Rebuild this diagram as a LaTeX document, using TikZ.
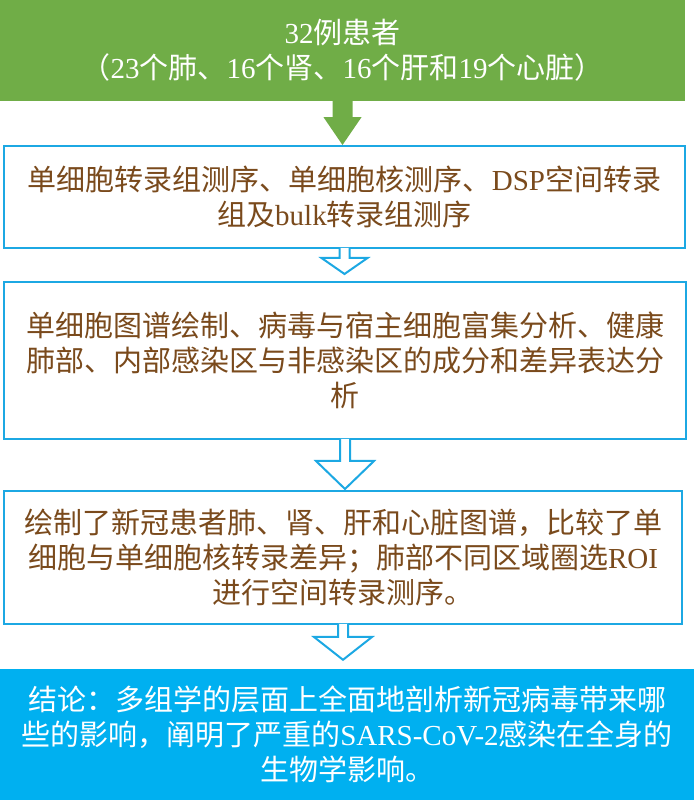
\documentclass[tikz,border=0pt]{standalone}
\usepackage{fontspec}
\setmainfont{Liberation Serif}
\newfontfamily\cjk{Noto Sans CJK SC}
\newfontfamily\lat{Liberation Serif}
\usepackage{tikz}
\usetikzlibrary{calc}
\definecolor{headgreen}{HTML}{70AD47}
\definecolor{lineblue}{HTML}{1CA8E3}
\definecolor{endblue}{HTML}{00B0F0}
\definecolor{textbrown}{HTML}{7A4A1C}
\tikzset{
  stage/.style={draw=lineblue, line width=2pt, fill=white, text=textbrown, align=center, inner sep=0pt},
  hollow/.style={draw=lineblue, line width=2pt, fill=white},
  solidarrow/.style={fill=headgreen, draw=none}
}
% [style]{from}{to}{shaft half width}{shaft length}{head half width}{gap above target}
\newcommand{\blockarrow}[7][hollow]{%
  \filldraw[#1] ([xshift=-#4pt,yshift=1pt]#2.south) -- ++(0,-#5-1) -- ++(#4-#6,0)
    -- ($(#2.south |- #3.north)+(0,#7)$) -- ([xshift=#6pt,yshift=-#5pt]#2.south)
    -- ++(#4-#6,0) -- ++(0,#5+1);}

\begin{document}
\begin{tikzpicture}[x=1pt, y=1pt, font=\fontsize{29}{35}\cjk]
  \useasboundingbox (0,0) rectangle (694,800);
  \node[fill=headgreen, text=white, align=center, inner sep=0pt, minimum width=685pt, minimum height=101pt]
    (patients) at (342.5,749.5) {{\lat 32}例患者\\（{\lat 23}个肺、{\lat 16}个肾、{\lat 16}个肝和{\lat 19}个心脏）};
  \node[stage, minimum width=681pt, minimum height=102pt] (seq) at (344.5,603)
    {单细胞转录组测序、单细胞核测序、{\lat DSP}空间转录\\组及{\lat bulk}转录组测序};
  \node[stage, minimum width=682pt, minimum height=157pt] (analysis) at (345,439.5)
    {单细胞图谱绘制、病毒与宿主细胞富集分析、健康\\肺部、内部感染区与非感染区的成分和差异表达分\\析};
  \node[stage, minimum width=678pt, minimum height=133pt] (atlas) at (343,242.5)
    {绘制了新冠患者肺、肾、肝和心脏图谱，比较了单\\细胞与单细胞核转录差异；肺部不同区域圈选{\lat ROI}\\进行空间转录测序。};
  \node[fill=endblue, text=white, align=center, inner sep=0pt, minimum width=694pt, minimum height=131pt]
    (conclusion) at (347,65.5)
    {结论：多组学的层面上全面地剖析新冠病毒带来哪\\些的影响，阐明了严重的{\lat SARS-CoV-2}感染在全身的\\生物学影响。};

  \blockarrow[solidarrow]{patients}{seq}{10}{16}{19}{0}
  \blockarrow{seq}{analysis}{5}{9}{23}{7}
  \blockarrow{analysis}{atlas}{5}{21}{29}{1}
  \blockarrow{atlas}{conclusion}{5}{12}{29}{9}
\end{tikzpicture}
\end{document}
